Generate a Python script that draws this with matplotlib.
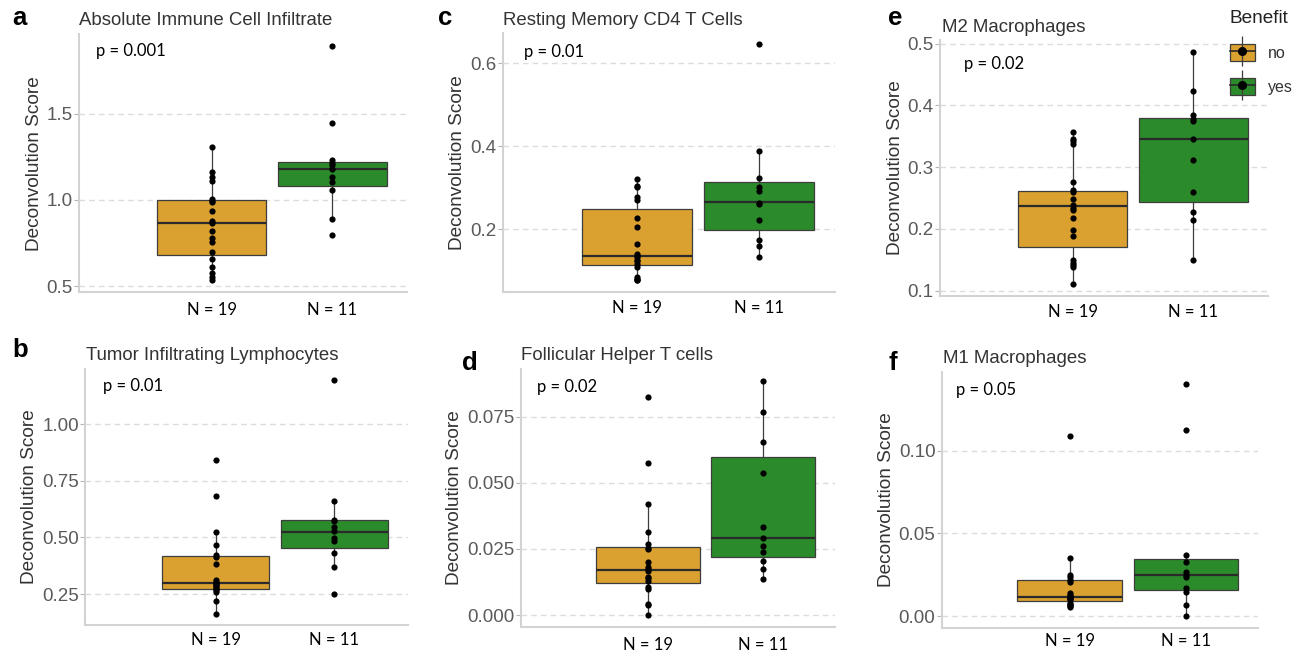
import matplotlib
matplotlib.use("Agg")
import matplotlib.pyplot as plt
import numpy as np
from matplotlib.lines import Line2D
from matplotlib.patches import Patch
from matplotlib.legend_handler import HandlerTuple

# ---- data ----
groups = ["no", "yes"]
colors = {"no": "#DAA030", "yes": "#2B8B2B"}

a_no = [0.532, 0.555, 0.574, 0.61, 0.658, 0.696, 0.754, 0.78, 0.82, 0.864,
        0.876, 0.934, 0.99, 0.995, 1.005, 1.11, 1.13, 1.16, 1.305]
a_yes = [0.797, 0.89, 1.058, 1.103, 1.132, 1.18, 1.2, 1.215, 1.229, 1.446, 1.891]
b_no = [0.164, 0.22, 0.259, 0.268, 0.272, 0.278, 0.285, 0.29, 0.295, 0.299,
        0.305, 0.312, 0.381, 0.415, 0.421, 0.465, 0.526, 0.682, 0.841]
b_yes = [0.249, 0.371, 0.43, 0.484, 0.499, 0.528, 0.547, 0.572, 0.579, 0.663, 1.193]
c_no = [0.076, 0.078, 0.080, 0.085, 0.109, 0.117, 0.122, 0.125, 0.132, 0.136,
        0.140, 0.164, 0.206, 0.227, 0.271, 0.278, 0.301, 0.305, 0.322]
c_yes = [0.133, 0.160, 0.174, 0.223, 0.26, 0.263, 0.292, 0.302, 0.324, 0.389, 0.646]
d_no = [0.0, 0.0038, 0.0042, 0.0097, 0.0107, 0.013, 0.0139, 0.0145, 0.0168, 0.0173,
        0.018, 0.0202, 0.025, 0.0255, 0.0267, 0.0314, 0.0418, 0.0573, 0.0825]
d_yes = [0.0137, 0.0173, 0.0205, 0.0237, 0.0262, 0.029, 0.0334, 0.0536, 0.0654, 0.0766, 0.0885]
e_no = [0.110, 0.138, 0.141, 0.145, 0.150, 0.188, 0.198, 0.217, 0.23, 0.234,
        0.238, 0.248, 0.26, 0.263, 0.276, 0.338, 0.342, 0.346, 0.357]
e_yes = [0.150, 0.214, 0.228, 0.26, 0.312, 0.346, 0.374, 0.378, 0.384, 0.423, 0.487]
f_no = [0.0056, 0.0062, 0.0067, 0.0075, 0.0081, 0.0101, 0.0105, 0.0108, 0.011, 0.0113,
        0.0118, 0.0125, 0.0137, 0.0204, 0.0218, 0.0238, 0.0248, 0.0349, 0.1089]
f_yes = [0.0, 0.0067, 0.0147, 0.0167, 0.0234, 0.0248, 0.0268, 0.0329, 0.0369, 0.1125, 0.1403]

# box stats as drawn: (whisker low, q1, median, q3, whisker high)
a_box = {"no": (0.532, 0.68, 0.864, 1.0, 1.305), "yes": (0.89, 1.078, 1.18, 1.219, 1.229)}
b_box = {"no": (0.164, 0.274, 0.299, 0.418, 0.526), "yes": (0.371, 0.452, 0.523, 0.579, 0.663)}
c_box = {"no": (0.076, 0.113, 0.136, 0.249, 0.322), "yes": (0.133, 0.198, 0.266, 0.314, 0.389)}
d_box = {"no": (0.0, 0.012, 0.017, 0.0258, 0.0418), "yes": (0.0137, 0.022, 0.0292, 0.0596, 0.0885)}
e_box = {"no": (0.110, 0.170, 0.2375, 0.262, 0.357), "yes": (0.150, 0.244, 0.345, 0.379, 0.487)}
f_box = {"no": (0.0056, 0.0091, 0.0113, 0.022, 0.0349), "yes": (0.0, 0.0157, 0.0248, 0.0347, 0.0369)}

titles = {"a": "Absolute Immune Cell Infiltrate", "b": "Tumor Infiltrating Lymphocytes",
          "c": "Resting Memory CD4 T Cells", "d": "Follicular Helper T cells",
          "e": "M2 Macrophages", "f": "M1 Macrophages"}
pvals = {"a": "p = 0.001", "b": "p = 0.01", "c": "p = 0.01",
         "d": "p = 0.02", "e": "p = 0.02", "f": "p = 0.05"}
yticks = {"a": [0.5, 1.0, 1.5], "b": [0.25, 0.5, 0.75, 1.0], "c": [0.2, 0.4, 0.6],
          "d": [0.0, 0.025, 0.05, 0.075], "e": [0.1, 0.2, 0.3, 0.4, 0.5], "f": [0.0, 0.05, 0.10]}
ytick_fmt = {"a": "%.1f", "b": "%.2f", "c": "%.1f", "d": "%.3f", "e": "%.1f", "f": "%.2f"}

panels = {"a": (a_no, a_yes, a_box), "b": (b_no, b_yes, b_box), "c": (c_no, c_yes, c_box),
          "d": (d_no, d_yes, d_box), "e": (e_no, e_yes, e_box), "f": (f_no, f_yes, f_box)}

# ---- layout in pixels ----
W, H = 1301, 656
# axes rect (left, top, right, bottom), letter (x, baseline), title (x, baseline),
# p text (x, baseline), ylabel centre offset, N label offset
layout = {
    "a": ((79, 34.5, 407, 292.2), (12, 25), (79, 25), (96, 56), 44.5, 23),
    "c": ((502.7, 32.5, 835, 292.3), (438, 25), (503, 25), (524, 56.7), 45, 21),
    "e": ((940, 40, 1268, 296), (888, 25), (941.7, 31.7), (964, 69), 44, 21.3),
    "b": ((85, 368.6, 408, 625.4), (12, 356.7), (86, 360), (102.7, 391), 55.5, 19.6),
    "d": ((520.7, 369.3, 835, 626.7), (462, 370), (520.7, 360), (536.7, 392), 66.5, 23.3),
    "f": ((941.7, 372.5, 1258, 627.6), (888, 370), (942.7, 362.7), (956, 395.3), 55, 18.4),
}

ggfont = "Liberation Sans"
calfont = "Lato"

fig = plt.figure(figsize=(W / 100, H / 100), dpi=100)

for key, (no_vals, yes_vals, box) in panels.items():
    (l, t, r, b), letter_xy, title_xy, p_xy, ylab_off, n_off = layout[key]
    ax = fig.add_axes([l / W, 1 - b / H, (r - l) / W, (b - t) / H])

    stats = []
    for g in groups:
        lo, q1, med, q3, hi = box[g]
        stats.append({"whislo": lo, "q1": q1, "med": med, "q3": q3, "whishi": hi, "fliers": []})
    bp = ax.bxp(stats, positions=[1, 2], widths=0.9, patch_artist=True, showcaps=False,
                showfliers=False,
                boxprops=dict(edgecolor="#3d3d3d", linewidth=0.9),
                medianprops=dict(color="#2a2a2a", linewidth=1.6),
                whiskerprops=dict(color="#3d3d3d", linewidth=0.9))
    for patch, g in zip(bp["boxes"], groups):
        patch.set_facecolor(colors[g])
        patch.set_zorder(2)

    for pos, vals in zip([1, 2], [no_vals, yes_vals]):
        ax.scatter(np.full(len(vals), pos), vals, s=20, color="black", lw=0, zorder=4)
        ax.annotate(f"N = {len(vals)}", xy=(pos, 0), xycoords=("data", "axes fraction"),
                    xytext=(0, -n_off * 0.72), textcoords="offset points",
                    ha="center", va="baseline", fontsize=12, family=calfont, color="black")

    allv = np.array(no_vals + yes_vals)
    span = allv.max() - allv.min()
    ax.set_ylim(allv.min() - 0.05 * span, allv.max() + 0.05 * span)
    ax.set_xlim(-0.1, 2.62)
    ax.set_xticks([])
    ax.set_yticks(yticks[key])
    ax.set_yticklabels([ytick_fmt[key] % v for v in yticks[key]], family=ggfont)
    ax.tick_params(axis="y", length=3.5, width=0.8, color="#b5b5b5", pad=1,
                   labelsize=13.5, labelcolor="#5a5a5a")
    ax.yaxis.grid(True, ls=(0, (4, 3)), color="#dcdcdc", lw=1.0)
    ax.set_axisbelow(True)
    for s in ["top", "right"]:
        ax.spines[s].set_visible(False)
    for s in ["left", "bottom"]:
        ax.spines[s].set_color("#d3d3d3")
        ax.spines[s].set_linewidth(1.5)

    ax.set_ylabel("Deconvolution Score", fontsize=13.7, color="#333333", family=ggfont)
    ax.yaxis.label.set_va("center")
    ax.yaxis.set_label_coords(-ylab_off / (r - l), 0.5)

    fig.text(letter_xy[0] / W, 1 - letter_xy[1] / H, key, fontsize=18.5, weight="bold",
             family=ggfont, va="baseline", ha="left")
    fig.text(title_xy[0] / W, 1 - title_xy[1] / H, titles[key], fontsize=13.4,
             family=ggfont, color="#333333", va="baseline", ha="left")
    fig.text(p_xy[0] / W, 1 - p_xy[1] / H, pvals[key], fontsize=12,
             family=calfont, color="black", va="baseline", ha="left")

# legend (box key with whisker, median and dot)
handles = []
for g in groups:
    handles.append((Patch(facecolor=colors[g], edgecolor="#3d3d3d", linewidth=0.9),
                    Line2D([], [], ls="none", marker="|", markersize=22,
                           markeredgecolor="#3d3d3d", markeredgewidth=0.9),
                    Line2D([], [], color="#2a2a2a", lw=1.2, marker="o", markersize=5.5,
                           markerfacecolor="black", markeredgecolor="black")))
leg = fig.legend(handles, groups, title="Benefit", loc="upper left",
                 bbox_to_anchor=(1226 / W, 1 - 6 / H), frameon=True, facecolor="white",
                 edgecolor="none", framealpha=1, prop={"family": ggfont, "size": 11.5},
                 title_fontproperties={"family": ggfont, "size": 13.7},
                 handlelength=1.55, handleheight=1.3, handletextpad=0.8,
                 labelspacing=1.05, borderpad=0.25, borderaxespad=0, alignment="left",
                 numpoints=1, handler_map={tuple: HandlerTuple(ndivide=1)})
leg.get_title().set_color("#222222")
for txt in leg.get_texts():
    txt.set_color("#333333")

fig.savefig("out.png", dpi=100)
